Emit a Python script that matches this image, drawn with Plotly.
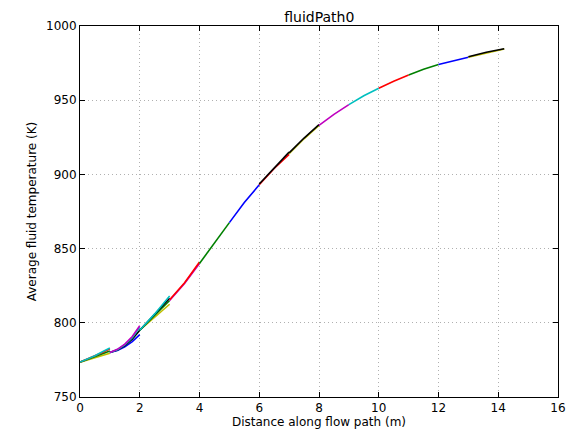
import plotly.graph_objects as go

# Colour cycle (matplotlib classic)
colors = ["#0000ff", "#008000", "#ff0000", "#00bfbf", "#bf00bf", "#bfbf00", "#000000"]

# Segment x-nodes and per-channel temperatures (K)
seg0_x = [0.0, 0.25, 0.5, 0.75, 1.0]
seg0_y = [[773.5, 775, 776.5, 778, 779.5], [773.5, 775.3, 777, 779, 781],
          [773.5, 775.5, 777.5, 780, 782.5], [773.5, 775.6, 777.8, 780.5, 783]]
seg1_x = [1.0, 1.25, 1.5, 1.75, 2.0]
seg1_y = [[780, 781.3, 783.8, 787.3, 792], [780, 781.6, 784.6, 789, 795],
          [780, 781.9, 785.2, 790, 797], [780, 782.1, 785.6, 790.8, 798]]
seg2_x = [2.0, 2.5, 3.0]
seg2_y = [[795, 804, 812.5], [795, 805, 815], [795, 805.5, 816.5], [795, 806, 818]]
seg3_x = [3.0, 3.5, 4.0]
seg3_y = [[815, 826.5, 840], [815.5, 827, 841]]
seg4_x = [4.0, 4.5, 5.0]
seg4_y = [[840, 854, 867.5]]
seg5_x = [5.0, 5.5, 6.0]
seg5_y = [[867.5, 881, 893]]
seg6_x = [6.0, 6.5, 7.0]
seg6_y = [[893, 904, 913.5], [893.5, 904.5, 915]]
seg7_x = [7.0, 7.5, 8.0]
seg7_y = [[914, 924, 933], [914.5, 924.5, 933.5]]
seg8_x = [8.0, 8.5, 9.0]
seg8_y = [[933, 940.5, 947]]
seg9_x = [9.0, 9.5, 10.0]
seg9_y = [[947, 953, 958]]
seg10_x = [10.0, 10.5, 11.0]
seg10_y = [[958, 962.8, 967]]
seg11_x = [11.0, 11.5, 12.0]
seg11_y = [[967, 970.8, 974]]
seg12_x = [12.0, 12.5, 13.0]
seg12_y = [[974, 976.7, 979]]
seg13_x = [13.0, 13.6, 14.2]
seg13_y = [[979, 982, 984.5], [979.3, 982.3, 984.7]]

segments = [
    (seg0_x, seg0_y, [5, 1, 2, 3]),
    (seg1_x, seg1_y, [0, 6, 3, 4]),
    (seg2_x, seg2_y, [5, 1, 6, 3]),
    (seg3_x, seg3_y, [4, 2]),
    (seg4_x, seg4_y, [1]),
    (seg5_x, seg5_y, [0]),
    (seg6_x, seg6_y, [2, 6]),
    (seg7_x, seg7_y, [5, 6]),
    (seg8_x, seg8_y, [4]),
    (seg9_x, seg9_y, [3]),
    (seg10_x, seg10_y, [2]),
    (seg11_x, seg11_y, [1]),
    (seg12_x, seg12_y, [0]),
    (seg13_x, seg13_y, [5, 6]),
]

fig = go.Figure()
for xs, ys_list, cidx in segments:
    for ys, ci in zip(ys_list, cidx):
        fig.add_trace(go.Scatter(x=xs, y=ys, mode="lines",
                                 line=dict(color=colors[ci], width=1.6),
                                 showlegend=False, hoverinfo="skip"))

axis_common = dict(showline=True, linecolor="black", linewidth=1, mirror="allticks",
                   ticks="inside", ticklen=5, tickcolor="black", automargin=False,
                   showgrid=True, gridcolor="#b0b0b0", griddash="1px,3px", gridwidth=1,
                   zeroline=False, tickfont=dict(family="DejaVu Sans", size=12, color="black"))

# page body has an 8px margin, so the figure is shrunk and shifted to compensate
fig.update_layout(
    width=568, height=425,
    margin=dict(l=72, r=18, t=18, b=36),
    paper_bgcolor="white", plot_bgcolor="white",
    title=dict(text="fluidPath0", x=0.548, xanchor="center", y=0.978, yanchor="middle",
               font=dict(family="DejaVu Sans", size=14, color="black")),
    xaxis=dict(range=[0, 16], dtick=2, tick0=0,
               title=dict(text="Distance along flow path (m)", standoff=2,
                          font=dict(family="DejaVu Sans", size=12, color="black")),
               **axis_common),
    yaxis=dict(range=[750, 1000], dtick=50, tick0=750,
               title=dict(text="Average fluid temperature (K)", standoff=6,
                          font=dict(family="DejaVu Sans", size=12, color="black")),
               **axis_common),
)

fig.write_html("out.html")
